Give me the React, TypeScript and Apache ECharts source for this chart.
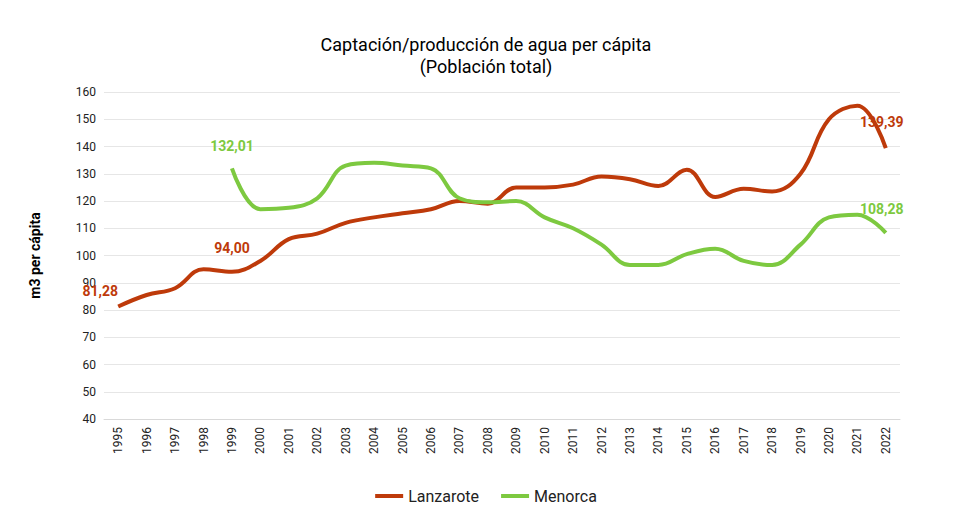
import React, { useEffect, useRef } from "react";
import * as echarts from "echarts";

const years = Array.from({ length: 28 }, (_, i) => String(1995 + i));
const lanzarote = [81.28, 85.5, 88, 95, 94.0, 98, 106, 108, 112, 114, 115.5, 117, 120, 119, 125, 125, 126, 129, 128, 125.5, 131.5, 121.5, 124.5, 123.5, 130, 150, 155, 139.39];
const menorca = [null, null, null, null, 132.01, 117, 117.5, 121, 133, 134, 133, 132, 121, 119.5, 120, 114, 110, 104, 96.5, 96.5, 100.5, 102.5, 98, 96.5, 104, 114, 115, 108.28];
const lanzaLabelIdx = [0, 4, 27];
const menLabelIdx = [4, 27];

const fmt = (v: number) => v.toFixed(2).replace(".", ",");

export default function App() {
  const ref = useRef<HTMLDivElement>(null);
  useEffect(() => {
    const chart = echarts.init(ref.current!, null, { renderer: "svg" });
    const mk = (arr: (number | null)[], idx: number[], color: string, offs: Record<number, number[]>) =>
      arr.map((v, i) =>
        idx.includes(i)
          ? { value: v, label: { show: true, position: "top", offset: offs[i] || [0, -4], formatter: fmt(v as number), color, fontWeight: "bold", fontSize: 14 } }
          : v
      );
    chart.setOption({
      animation: false,
      textStyle: { fontFamily: "Roboto" },
      title: {
        text: "Captación/producción de agua per cápita\n(Población total)",
        left: "center", top: 20,
        textStyle: { fontSize: 18, fontWeight: "normal", color: "#000", lineHeight: 22, fontFamily: "Roboto", align: "center" },
      },
      legend: {
        bottom: 4, left: "center", itemWidth: 28, itemHeight: 4, itemGap: 22, icon: "rect",
        textStyle: { fontSize: 16, color: "#222" },
        data: ["Lanzarote", "Menorca"],
      },
      grid: { left: 96, right: 64, top: 84, bottom: 94 },
      xAxis: {
        type: "category", data: years, boundaryGap: true,
        axisLine: { lineStyle: { color: "#d9d9d9" } },
        axisTick: { show: false },
        axisLabel: { rotate: 90, color: "#222", fontSize: 12, interval: 0 },
      },
      yAxis: {
        type: "value", min: 40, max: 160, interval: 10,
        name: "m3 per cápita", nameLocation: "middle", nameGap: 62, nameRotate: 90,
        nameTextStyle: { fontWeight: "bold", fontSize: 14, color: "#000" },
        axisLabel: { color: "#222", fontSize: 12 },
        splitLine: { lineStyle: { color: "#e6e6e6" } },
      },
      series: [
        {
          name: "Lanzarote", type: "line", smooth: 0.4, symbol: "circle", symbolSize: 0, showSymbol: true,
          color: "#BE3A0A", lineStyle: { width: 4 },
          data: mk(lanzarote, lanzaLabelIdx, "#BE3A0A", { 0: [-18, -4], 4: [0, -12], 27: [-4, -14] }),
        },
        {
          name: "Menorca", type: "line", smooth: 0.4, symbol: "circle", symbolSize: 0, showSymbol: true, connectNulls: false,
          color: "#7DC940", lineStyle: { width: 4 },
          data: mk(menorca, menLabelIdx, "#7DC940", { 4: [0, -10], 27: [-4, -12] }),
        },
      ],
    });
    return () => chart.dispose();
  }, []);
  return <div ref={ref} style={{ width: 956, height: 505 }} />;
}
